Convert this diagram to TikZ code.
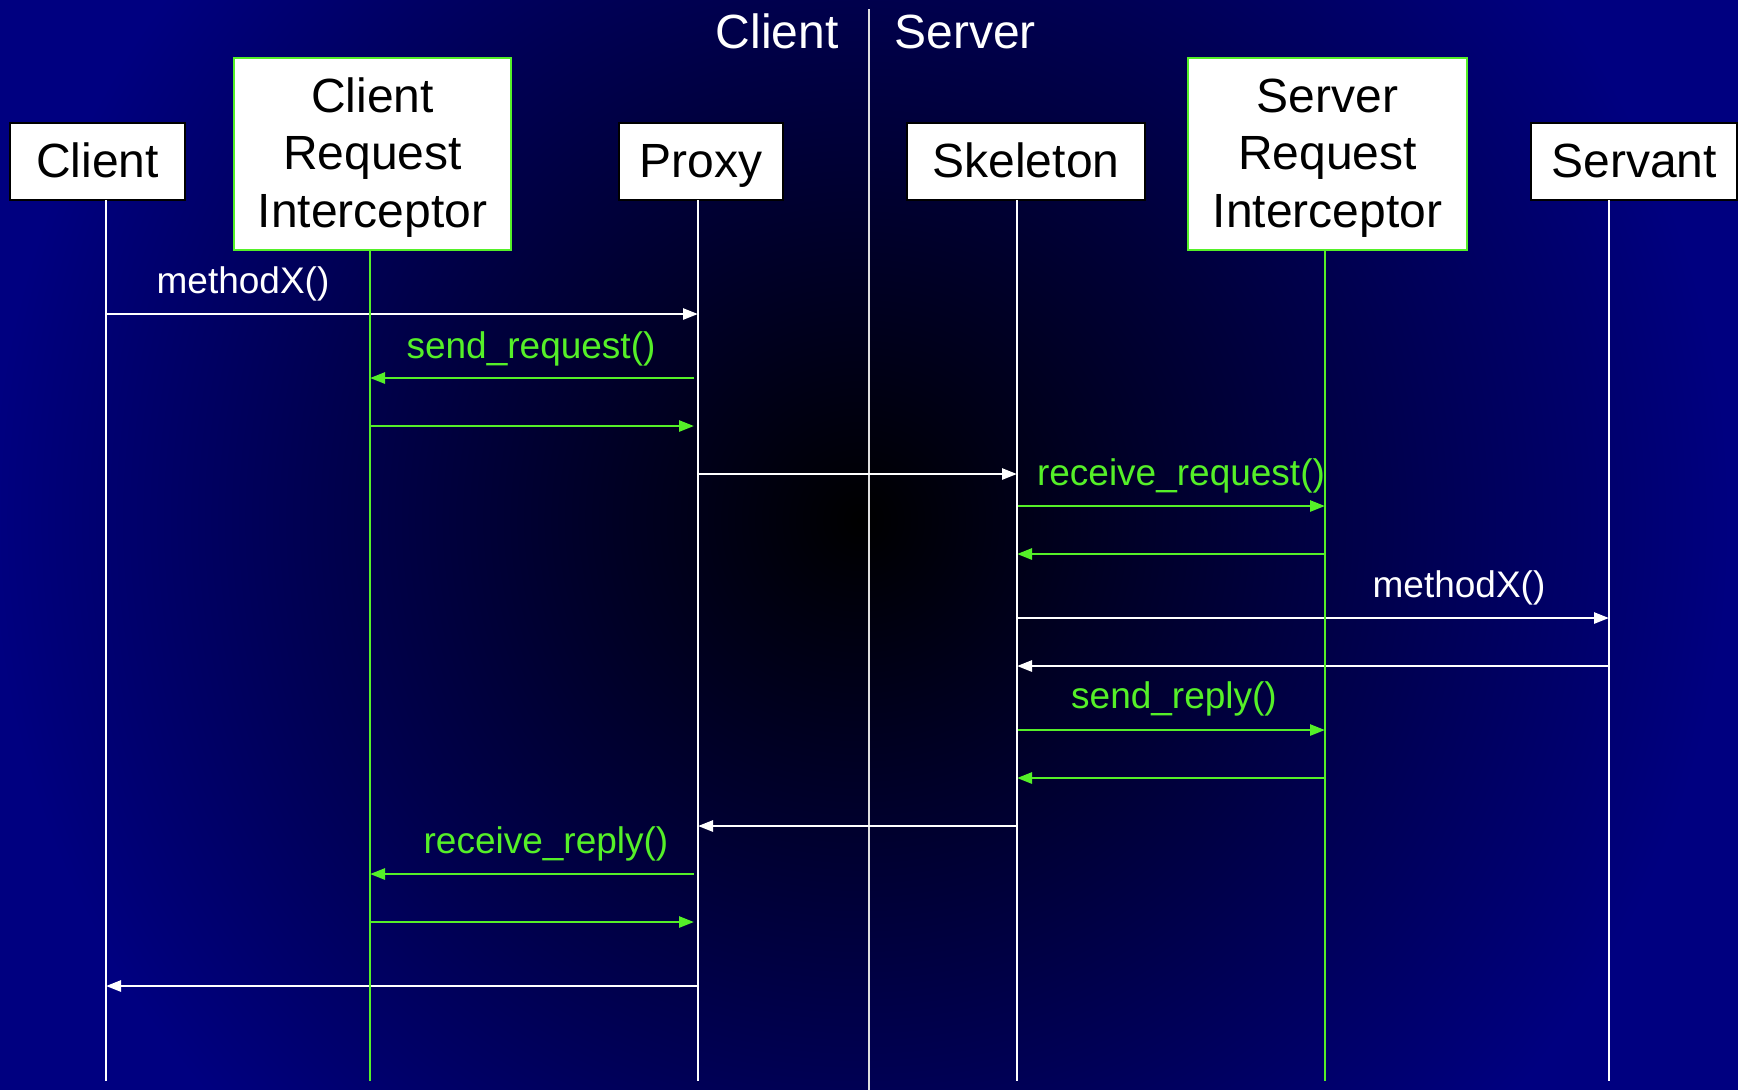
\documentclass[tikz,border=0pt]{standalone}
\usepackage{fontspec}
\setmainfont{Liberation Sans}
\usetikzlibrary{arrows.meta}
\definecolor{BgNavy}{RGB}{0,0,128}
\definecolor{MsgGreen}{RGB}{85,240,40}

\begin{document}
\begin{tikzpicture}[x=0.5pt,y=-0.5pt,
  obj/.style={draw=black,line width=1pt,fill=white,inner sep=0pt,
    font=\fontsize{24}{28.8}\selectfont,text height=17.2pt,text depth=1.6pt,
    minimum height=38.5pt},
  icpt/.style={obj,draw=MsgGreen,line width=1.3pt,align=center,
    text height=74.8pt,minimum height=96pt},
  side/.style={white,inner sep=0pt,font=\fontsize{24}{28.8}\selectfont},
  life/.style={white,line width=1pt},
  msg/.style={white,line width=1.3pt,-{Triangle[length=7.5pt,width=5.5pt]}},
  gmsg/.style={msg,MsgGreen},
  lbl/.style={font=\fontsize{18.5}{22}\selectfont,anchor=base}]
\useasboundingbox (0,0) rectangle (1738,1089);
\begin{scope}
\clip (-6,-6) rectangle (1744,1095);
\fill[BgNavy] (-6,-6) rectangle (1744,1095);
\shade[inner color=black,outer color=BgNavy] (860,520) circle (870);
\end{scope}
% client / server split
\coordinate (divtop) at (869,9);
\coordinate (divbot) at (869,1095);
\draw[white!75!gray,line width=0.8pt] (divtop) -- (divbot);
\node[side,anchor=base east] (clientside) at (839,48) {Client};
\node[side,anchor=base west] (serverside) at (894,48) {Server};
% objects
\node[obj,minimum width=87.5pt] (client) at (97.5,161.5) {Client};
\node[icpt,minimum width=138.5pt] (cri) at (372.5,154) {Client\\Request\\Interceptor};
\node[obj,minimum width=82pt] (proxy) at (701,161.5) {Proxy};
\node[obj,minimum width=119pt] (skel) at (1026,161.5) {Skeleton};
\node[icpt,minimum width=139.5pt] (sri) at (1327.5,154) {Server\\Request\\Interceptor};
\node[obj,minimum width=103pt] (servant) at (1634,161.5) {Servant};
\coordinate (clientL) at (106,200);
\coordinate (criL) at (370,250);
\coordinate (proxyL) at (698,200);
\coordinate (skelL) at (1017,200);
\coordinate (sriL) at (1325,250);
\coordinate (servL) at (1609,200);
\coordinate (bottom) at (0,1081);
% messages
\draw[msg] (clientL |- 0,314) -- (proxyL |- 0,314);
\draw[gmsg,shorten <=2pt] (proxyL |- 0,378) -- (criL |- 0,378);
\draw[gmsg,shorten >=2pt] (criL |- 0,426) -- (proxyL |- 0,426);
\draw[msg] (proxyL |- 0,474) -- (skelL |- 0,474);
\draw[gmsg] (skelL |- 0,506) -- (sriL |- 0,506);
\draw[gmsg] (sriL |- 0,554) -- (skelL |- 0,554);
\draw[msg] (skelL |- 0,618) -- (servL |- 0,618);
\draw[msg] (servL |- 0,666) -- (skelL |- 0,666);
\draw[gmsg] (skelL |- 0,730) -- (sriL |- 0,730);
\draw[gmsg] (sriL |- 0,778) -- (skelL |- 0,778);
\draw[msg] (skelL |- 0,826) -- (proxyL |- 0,826);
\draw[gmsg,shorten <=2pt] (proxyL |- 0,874) -- (criL |- 0,874);
\draw[gmsg,shorten >=2pt] (criL |- 0,922) -- (proxyL |- 0,922);
\draw[msg] (proxyL |- 0,986) -- (clientL |- 0,986);
% lifelines
\draw[life] (clientL) -- (clientL |- bottom);
\draw[life,MsgGreen] (criL) -- (criL |- bottom);
\draw[life] (proxyL) -- (proxyL |- bottom);
\draw[life] (skelL) -- (skelL |- bottom);
\draw[life,MsgGreen] (sriL) -- (sriL |- bottom);
\draw[life] (servL) -- (servL |- bottom);
% labels
\node[lbl,white] (callA) at (243,293) {methodX()};
\node[lbl,MsgGreen] (sreq) at (531,358) {send\_request()};
\node[lbl,MsgGreen] (rreq) at (1181,485) {receive\_request()};
\node[lbl,white] (callB) at (1459,597) {methodX()};
\node[lbl,MsgGreen] (srep) at (1174,708) {send\_reply()};
\node[lbl,MsgGreen] (rrep) at (546,853) {receive\_reply()};
\end{tikzpicture}
\end{document}
